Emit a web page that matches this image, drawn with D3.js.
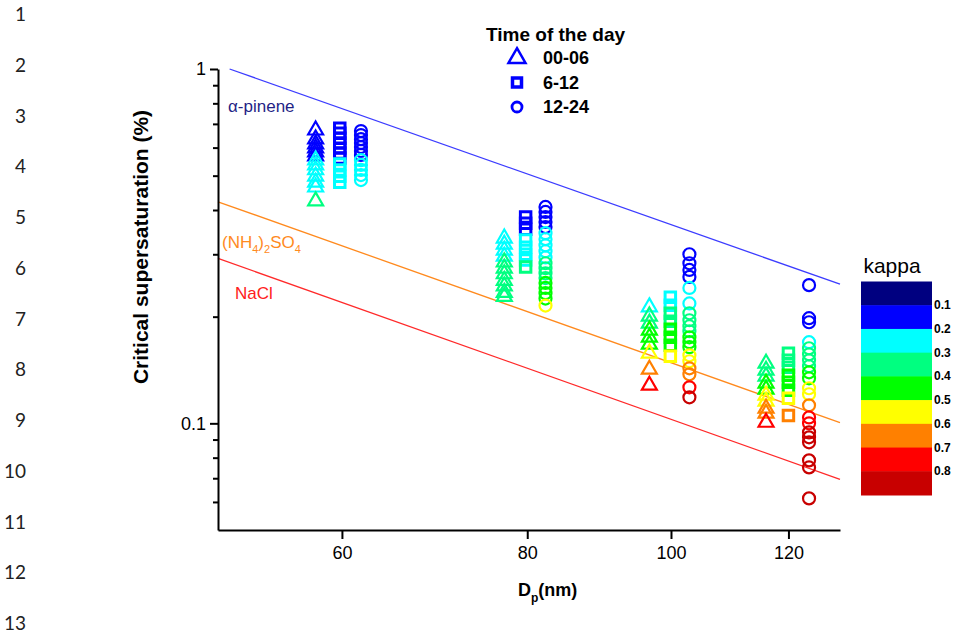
<!DOCTYPE html>
<html><head><meta charset="utf-8">
<script src="https://cdn.jsdelivr.net/npm/d3@7"></script>
<style>body{margin:0;background:#fff}svg{display:block}</style>
</head><body>
<svg id="chart" width="956" height="638"></svg>
<script>
// ---------------- data ----------------
const timeGroups = ["00-06", "6-12", "12-24"];
const dpTicks = [60, 80, 100, 120];
const scMajorTicks = [1, 0.1];
const scMinorTicks = [0.9, 0.8, 0.7, 0.6, 0.5, 0.4, 0.3, 0.2, 0.09, 0.08, 0.07, 0.06];
const kappaTicks = [0.1, 0.2, 0.3, 0.4, 0.5, 0.6, 0.7, 0.8];
const kappaColors = ["#000080", "#0000FF", "#00FFFF", "#00FF80", "#00FF00", "#FFFF00", "#FF8000", "#FF0000", "#C80000"];

// particle diameters (nm) at which each time group is plotted
const dp0006 = [57.6, 77.2, 96.7, 115.9];
const dp0612 = [59.8, 79.8, 99.9, 120.0];
const dp1224 = [61.8, 82.3, 102.9, 123.9];

// critical supersaturation (%) per diameter cluster
const sc0006 = [
  [0.672, 0.634, 0.614, 0.598, 0.583, 0.568, 0.553, 0.536, 0.519, 0.498, 0.479, 0.464, 0.424],
  [0.333, 0.320, 0.308, 0.296, 0.285, 0.274, 0.264, 0.253, 0.244, 0.234, 0.228],
  [0.213, 0.2006, 0.1916, 0.1831, 0.1749, 0.1671, 0.1577, 0.142, 0.128],
  [0.1477, 0.1411, 0.1358, 0.1297, 0.1247, 0.1200, 0.1154, 0.1102, 0.1067, 0.1006]
];
const kappa0006 = [
  [0.15, 0.15, 0.15, 0.15, 0.15, 0.15, 0.25, 0.25, 0.25, 0.25, 0.25, 0.25, 0.35],
  [0.25, 0.25, 0.25, 0.25, 0.35, 0.35, 0.35, 0.35, 0.35, 0.35, 0.35],
  [0.25, 0.35, 0.35, 0.45, 0.45, 0.45, 0.55, 0.65, 0.75],
  [0.35, 0.35, 0.35, 0.45, 0.45, 0.55, 0.55, 0.65, 0.65, 0.75]
];
const sc0612 = [
  [0.681, 0.659, 0.638, 0.618, 0.598, 0.579, 0.561, 0.539, 0.519, 0.498, 0.479],
  [0.382, 0.367, 0.353, 0.329, 0.314, 0.300, 0.289, 0.276],
  [0.227, 0.2154, 0.2045, 0.1941, 0.1843, 0.1749, 0.1661, 0.1546],
  [0.1577, 0.1506, 0.1439, 0.1367, 0.1306, 0.1240, 0.1177, 0.1053]
];
const kappa0612 = [
  [0.15, 0.15, 0.15, 0.15, 0.15, 0.15, 0.15, 0.25, 0.25, 0.25, 0.25],
  [0.15, 0.15, 0.15, 0.25, 0.25, 0.25, 0.25, 0.35],
  [0.25, 0.25, 0.35, 0.35, 0.45, 0.45, 0.45, 0.55],
  [0.35, 0.35, 0.35, 0.45, 0.45, 0.45, 0.55, 0.65]
];
const sc1224 = [
  [0.668, 0.651, 0.634, 0.618, 0.602, 0.587, 0.572, 0.553, 0.536, 0.519, 0.502, 0.486],
  [0.408, 0.395, 0.382, 0.370, 0.358, 0.344, 0.331, 0.318, 0.306, 0.294, 0.283, 0.274, 0.265, 0.257, 0.249, 0.241, 0.233, 0.225, 0.215],
  [0.300, 0.283, 0.271, 0.259, 0.241, 0.218, 0.2045, 0.1954, 0.1879, 0.1819, 0.1749, 0.1694, 0.1640, 0.1556, 0.1497, 0.1430, 0.1375, 0.1264, 0.1184],
  [0.2455, 0.1980, 0.1929, 0.1694, 0.1629, 0.1566, 0.1506, 0.1449, 0.1393, 0.1340, 0.1256, 0.1208, 0.1124, 0.1039, 0.100, 0.0943, 0.0913, 0.0884, 0.0786, 0.0751, 0.0614]
];
const kappa1224 = [
  [0.15, 0.15, 0.15, 0.15, 0.15, 0.15, 0.15, 0.25, 0.25, 0.25, 0.25, 0.25],
  [0.15, 0.15, 0.15, 0.15, 0.15, 0.25, 0.25, 0.25, 0.25, 0.25, 0.35, 0.35, 0.35, 0.35, 0.45, 0.45, 0.45, 0.45, 0.55],
  [0.15, 0.15, 0.15, 0.15, 0.25, 0.25, 0.35, 0.35, 0.35, 0.35, 0.45, 0.45, 0.45, 0.55, 0.55, 0.65, 0.65, 0.75, 0.85],
  [0.15, 0.15, 0.15, 0.25, 0.35, 0.35, 0.35, 0.35, 0.45, 0.45, 0.55, 0.55, 0.65, 0.75, 0.75, 0.85, 0.85, 0.85, 0.85, 0.85, 0.85]
];

// Köhler reference lines (endpoints: Dp nm, Sc %)
const alphaPineneDp = [50.4, 130], alphaPineneSc = [1.0, 0.247];
const ammSulfDp = [49.5, 130], ammSulfSc = [0.422, 0.1004];
const naclDp = [49.5, 130], naclSc = [0.292, 0.0695];

const rowNumbers = d3.range(1, 14);

// ---------------- drawing ----------------
const svg = d3.select("#chart");
const FONT = "'Liberation Sans', Arial, sans-serif";

const x = d3.scaleLog().domain([49.5, 130]).range([218, 840]);
const y = d3.scaleLog().domain([0.05, 1]).range([530, 69]);
const color = d3.scaleThreshold().domain(kappaTicks).range(kappaColors);

// row numbers (document line numbers)
svg.append("g").selectAll("text").data(rowNumbers).join("text")
  .attr("x", 26).attr("y", (d, i) => 21 + i * 50.75)
  .attr("text-anchor", "end")
  .style("font-family", "Lato, 'Open Sans', sans-serif").style("font-size", "19px")
  .attr("fill", "#222").text(d => d);

// reference lines
const lineGen = d3.line().x(d => x(d[0])).y(d => y(d[1]));
const refLines = [
  {dp: alphaPineneDp, sc: alphaPineneSc, color: "#3c3cff"},
  {dp: ammSulfDp, sc: ammSulfSc, color: "#ff8a1e"},
  {dp: naclDp, sc: naclSc, color: "#ff2a2a"}
];
svg.append("g").selectAll("path").data(refLines).join("path")
  .attr("d", d => lineGen(d3.zip(d.dp, d.sc)))
  .attr("fill", "none").attr("stroke", d => d.color).attr("stroke-width", 1.3);

// line labels
svg.append("text").attr("x", 228).attr("y", 112)
  .style("font-family", FONT).style("font-size", "17px").attr("fill", "#1f1f86").text("α-pinene");
const ns = svg.append("text").attr("x", 222).attr("y", 248)
  .style("font-family", FONT).style("font-size", "17px").attr("fill", "#ff8a1e");
ns.append("tspan").text("(NH");
ns.append("tspan").attr("dy", 5).style("font-size", "11px").text("4");
ns.append("tspan").attr("dy", -5).text(")");
ns.append("tspan").attr("dy", 5).style("font-size", "11px").text("2");
ns.append("tspan").attr("dy", -5).text("SO");
ns.append("tspan").attr("dy", 5).style("font-size", "11px").text("4");
svg.append("text").attr("x", 235).attr("y", 299)
  .style("font-family", FONT).style("font-size", "17px").attr("fill", "#ff2020").text("NaCl");

// markers
const shapes = [
  {type: d3.symbolTriangle, size: 97, sw: 2.2, dp: dp0006, sc: sc0006, kappa: kappa0006},
  {type: d3.symbolSquare, size: 110, sw: 3, dp: dp0612, sc: sc0612, kappa: kappa0612},
  {type: d3.symbolCircle, size: 113, sw: 2.2, dp: dp1224, sc: sc1224, kappa: kappa1224}
];
const pts = [];
shapes.forEach((s, gi) => {
  s.sc.forEach((arr, ci) => {
    arr.forEach((v, k) => pts.push({g: gi, dp: s.dp[ci], sc: v, kappa: s.kappa[ci][k]}));
  });
});
const markG = svg.append("g");
shapes.forEach((s, gi) => {
  markG.append("g").selectAll("path").data(pts.filter(p => p.g === gi)).join("path")
    .attr("transform", d => `translate(${x(d.dp)},${y(d.sc)})`)
    .attr("d", d3.symbol().type(s.type).size(s.size))
    .attr("fill", "none").attr("stroke", d => color(d.kappa)).attr("stroke-width", s.sw);
});

// axes
svg.append("g").attr("transform", "translate(218,0)")
  .call(d3.axisLeft(y).tickValues(scMajorTicks).tickFormat(d3.format("")).tickSize(8).tickSizeOuter(0).tickPadding(4));
svg.append("g").attr("transform", "translate(218,0)")
  .call(d3.axisLeft(y).tickValues(scMinorTicks).tickFormat("").tickSize(5).tickSizeOuter(0))
  .call(g => g.select(".domain").remove());
svg.append("g").attr("transform", "translate(0,530)")
  .call(d3.axisBottom(x).tickValues(dpTicks).tickFormat(d3.format("d")).tickSize(9).tickSizeOuter(0).tickPadding(7));
svg.selectAll(".domain").attr("stroke", "#000").attr("stroke-width", 2);
svg.selectAll(".tick line").attr("stroke", "#000").attr("stroke-width", 2);
svg.selectAll(".tick text").style("font-family", FONT).style("font-size", "18px").attr("fill", "#000");

// axis titles
svg.append("text").attr("transform", "translate(148,247) rotate(-90)").attr("text-anchor", "middle")
  .style("font-family", FONT).style("font-size", "21px").style("font-weight", "bold")
  .text("Critical supersaturation (%)");
const xt = svg.append("text").attr("x", 518).attr("y", 596)
  .style("font-family", FONT).style("font-size", "18px").style("font-weight", "bold");
xt.append("tspan").text("D");
xt.append("tspan").attr("dy", 6).style("font-size", "12px").text("p");
xt.append("tspan").attr("dy", -6).text("(nm)");

// legend
svg.append("text").attr("x", 486).attr("y", 41)
  .style("font-family", FONT).style("font-size", "19px").style("font-weight", "bold").text("Time of the day");
const legShapes = [
  {type: d3.symbolTriangle, size: 125, sw: 2.5},
  {type: d3.symbolSquare, size: 81, sw: 3.5},
  {type: d3.symbolCircle, size: 79, sw: 2.8}
];
const leg = svg.append("g").selectAll("g").data(timeGroups).join("g")
  .attr("transform", (d, i) => `translate(517,${58 + i * 24.5})`);
leg.append("path").attr("d", (d, i) => d3.symbol().type(legShapes[i].type).size(legShapes[i].size)())
  .attr("fill", "none").attr("stroke", "#0000FF").attr("stroke-width", (d, i) => legShapes[i].sw);
leg.append("text").attr("x", 26).attr("y", 6)
  .style("font-family", FONT).style("font-size", "18px").style("font-weight", "bold").text(d => d);

// colour bar
const cb = d3.scaleLinear().domain([0, 0.9]).range([281.5, 495]);
const cbBins = d3.range(kappaColors.length);
svg.append("g").selectAll("rect").data(cbBins).join("rect")
  .attr("x", 861).attr("width", 71)
  .attr("y", d => cb(d * 0.1)).attr("height", d => cb((d + 1) * 0.1) - cb(d * 0.1) + 0.5)
  .attr("fill", d => kappaColors[d]);
svg.append("g").selectAll("text").data(kappaTicks).join("text")
  .attr("x", 934).attr("y", d => cb(d) + 4)
  .style("font-family", FONT).style("font-size", "12px").style("font-weight", "bold").text(d => d);
svg.append("text").attr("x", 892).attr("y", 273).attr("text-anchor", "middle")
  .style("font-family", FONT).style("font-size", "21px").text("kappa");
</script>
</body></html>
